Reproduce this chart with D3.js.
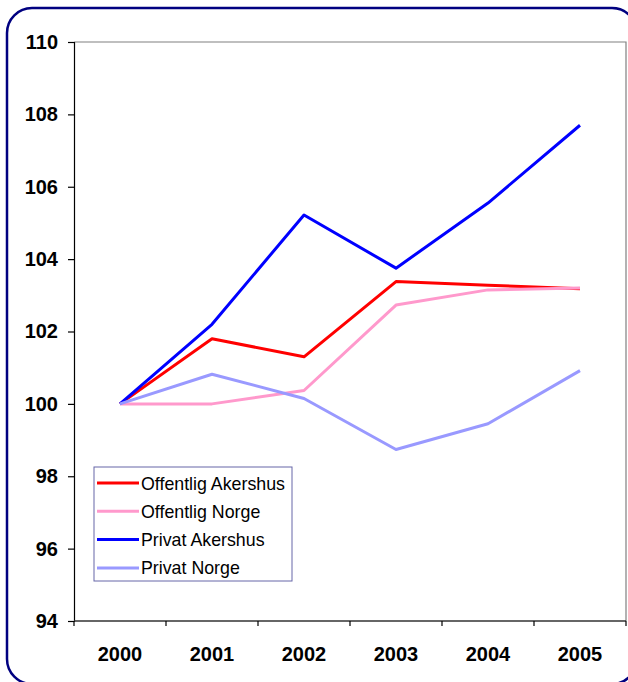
<!DOCTYPE html>
<html>
<head>
<meta charset="utf-8">
<script src="https://cdn.jsdelivr.net/npm/d3@7"></script>
<style>
  html, body { margin: 0; padding: 0; background: #fff; }
  svg { display: block; }
  text { font-family: "Liberation Sans", Arial, sans-serif; }
</style>
</head>
<body>
<svg id="chart" width="628" height="682"></svg>
<script>
const years = ["2000", "2001", "2002", "2003", "2004", "2005"];
const yTicks = [94, 96, 98, 100, 102, 104, 106, 108, 110];
const seriesNames = ["Offentlig Akershus", "Offentlig Norge", "Privat Akershus", "Privat Norge"];
const seriesColors = ["#FF0000", "#FF99CC", "#0000FF", "#9999FF"];
const offentligAkershus = [100, 101.8, 101.3, 103.38, 103.28, 103.18];
const offentligNorge = [100, 100.0, 100.37, 102.73, 103.15, 103.2];
const privatAkershus = [100, 102.2, 105.22, 103.75, 105.55, 107.7];
const privatNorge = [100, 100.82, 100.15, 98.74, 99.45, 100.92];

const seriesValues = [offentligAkershus, offentligNorge, privatAkershus, privatNorge];

const svg = d3.select("#chart");

// outer rounded frame
svg.append("rect")
  .attr("x", 7).attr("y", 8)
  .attr("width", 630).attr("height", 676)
  .attr("rx", 25).attr("ry", 25)
  .attr("fill", "none")
  .attr("stroke", "#000080")
  .attr("stroke-width", 2.5);

const pLeft = 74, pRight = 626, pTop = 42, pBottom = 621;

const x = d3.scaleBand().domain(years).range([pLeft, pRight]).padding(0);
const y = d3.scaleLinear().domain([94, 110]).range([pBottom, pTop]);

// plot area border (top & right)
svg.append("path")
  .attr("d", `M${pLeft},${pTop}H${pRight}V${pBottom}`)
  .attr("fill", "none")
  .attr("stroke", "#808080")
  .attr("stroke-width", 1.2);

// Y axis
const yAxis = svg.append("g")
  .attr("transform", `translate(${pLeft},0)`)
  .call(d3.axisLeft(y).tickValues(yTicks).tickSize(6).tickPadding(10).tickFormat(d3.format("d")));
yAxis.select(".domain").attr("stroke", "#000").attr("stroke-width", 1.2);
yAxis.selectAll(".tick line").attr("stroke", "#000").attr("stroke-width", 1.2);
yAxis.selectAll("text")
  .attr("font-size", 20).attr("font-weight", "bold").attr("fill", "#000")
  .attr("font-family", "'Liberation Sans', Arial, sans-serif");

// X axis with ticks between categories
const xAxisG = svg.append("g").attr("transform", `translate(0,${pBottom})`);
xAxisG.append("line")
  .attr("x1", pLeft).attr("x2", pRight).attr("y1", 0).attr("y2", 0)
  .attr("stroke", "#333").attr("stroke-width", 1.5);
const boundaries = years.map(d => x(d)).concat([x(years[years.length - 1]) + x.bandwidth()]);
xAxisG.selectAll("line.tk").data(boundaries).enter().append("line")
  .attr("class", "tk")
  .attr("x1", d => d).attr("x2", d => d)
  .attr("y1", 0).attr("y2", 5)
  .attr("stroke", "#000").attr("stroke-width", 1.2);
xAxisG.selectAll("text").data(years).enter().append("text")
  .attr("x", d => x(d) + x.bandwidth() / 2)
  .attr("y", 40)
  .attr("text-anchor", "middle")
  .attr("font-size", 20).attr("font-weight", "bold").attr("fill", "#000")
  .text(d => d);

// lines
const line = d3.line()
  .x((d, i) => x(years[i]) + x.bandwidth() / 2)
  .y(d => y(d));

seriesValues.forEach((vals, k) => {
  svg.append("path")
    .datum(vals)
    .attr("d", line)
    .attr("fill", "none")
    .attr("stroke", seriesColors[k])
    .attr("stroke-width", 3)
    .attr("stroke-linejoin", "round");
});

// legend
const lg = svg.append("g").attr("transform", "translate(94,467)");
lg.append("rect")
  .attr("x", 0).attr("y", 0).attr("width", 198).attr("height", 114)
  .attr("fill", "#fff")
  .attr("stroke", "#6666a8").attr("stroke-width", 1);
seriesNames.forEach((name, k) => {
  const cy = 16 + k * 28.3;
  lg.append("line")
    .attr("x1", 3).attr("x2", 45).attr("y1", cy).attr("y2", cy)
    .attr("stroke", seriesColors[k]).attr("stroke-width", 3);
  lg.append("text")
    .attr("x", 47).attr("y", cy + 6.5)
    .attr("font-size", 17.8)
    .attr("fill", "#000")
    .text(name);
});
</script>
</body>
</html>
